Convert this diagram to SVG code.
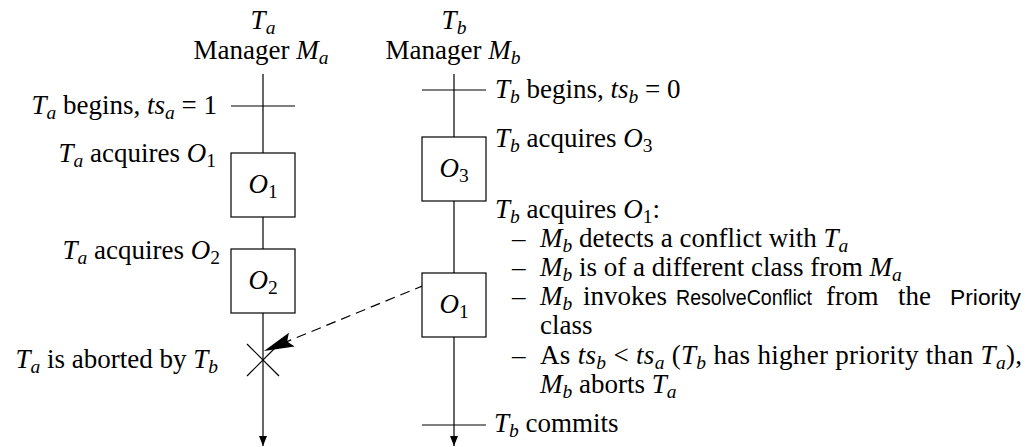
<svg xmlns="http://www.w3.org/2000/svg" width="1026" height="447" viewBox="0 0 1026 447">
<style>
.tx{font-family:"Liberation Serif","Times New Roman",serif;font-size:27px;fill:#000}
.it{font-style:italic}
.sb{font-size:19.5px}
.sf{font-family:"Liberation Sans",Arial,sans-serif;font-size:22px;fill:#000}
.ln{stroke:#000;stroke-width:1.2;fill:none}
.bx{stroke:#000;stroke-width:1.2;fill:#fff}
</style>
<defs>
<marker id="ah" viewBox="0 0 10 8" refX="10" refY="4" markerWidth="10" markerHeight="8" markerUnits="userSpaceOnUse" orient="auto">
<path d="M0,0 L10,4 L0,8 z" fill="#000"/>
</marker>
<marker id="ahb" viewBox="0 0 30 16" refX="30" refY="8" markerWidth="30" markerHeight="16" markerUnits="userSpaceOnUse" orient="auto">
<path d="M0,0.5 L30,8 L0,15.5 L5,8 z" fill="#000"/>
</marker>
</defs>

<g id="connectors">
<line class="ln" x1="263" y1="74" x2="263" y2="446" stroke="#555" marker-end="url(#ah)"/>
<line class="ln" x1="454" y1="74" x2="454" y2="446" marker-end="url(#ah)"/>
<line class="ln" x1="231" y1="106" x2="295" y2="106"/>
<line class="ln" x1="422" y1="90" x2="486" y2="90"/>
<line class="ln" x1="422" y1="425" x2="486" y2="425"/>
<line class="ln" x1="454" y1="273" x2="264" y2="351" stroke-width="1.5" stroke-dasharray="10,6" marker-end="url(#ahb)"/>
</g>

<g id="headerA">
<text class="tx" x="263" y="29" text-anchor="middle"><tspan class="it">T</tspan><tspan class="sb it" dy="5">a</tspan></text>
<text class="tx" x="261" y="59" text-anchor="middle">Manager <tspan class="it">M</tspan><tspan class="sb it" dy="5">a</tspan></text>
</g>
<g id="headerB">
<text class="tx" x="454" y="29" text-anchor="middle"><tspan class="it">T</tspan><tspan class="sb it" dy="5">b</tspan></text>
<text class="tx" x="453" y="59" text-anchor="middle">Manager <tspan class="it">M</tspan><tspan class="sb it" dy="5">b</tspan></text>
</g>

<g id="boxA1">
<rect class="bx" x="231" y="153" width="64" height="64"/>
<text class="tx" x="263" y="193" text-anchor="middle"><tspan class="it">O</tspan><tspan class="sb" dy="5">1</tspan></text>
</g>
<g id="boxA2">
<rect class="bx" x="231" y="249" width="64" height="64"/>
<text class="tx" x="263" y="289" text-anchor="middle"><tspan class="it">O</tspan><tspan class="sb" dy="5">2</tspan></text>
</g>
<g id="boxB3">
<rect class="bx" x="422" y="137" width="64" height="64"/>
<text class="tx" x="454" y="177" text-anchor="middle"><tspan class="it">O</tspan><tspan class="sb" dy="5">3</tspan></text>
</g>
<g id="boxB1">
<rect class="bx" x="422" y="273" width="64" height="64"/>
<text class="tx" x="454" y="313" text-anchor="middle"><tspan class="it">O</tspan><tspan class="sb" dy="5">1</tspan></text>
</g>

<g id="abortX">
<line class="ln" x1="247" y1="344" x2="279" y2="376"/>
<line class="ln" x1="279" y1="344" x2="247" y2="376"/>
</g>

<g id="labelsA">
<text class="tx" x="217" y="114" text-anchor="end"><tspan class="it">T</tspan><tspan class="sb it" dy="5">a</tspan><tspan dy="-5"> begins, </tspan><tspan class="it">ts</tspan><tspan class="sb it" dy="5">a</tspan><tspan dy="-5"> = 1</tspan></text>
<text class="tx" x="216" y="162" text-anchor="end"><tspan class="it">T</tspan><tspan class="sb it" dy="5">a</tspan><tspan dy="-5"> acquires </tspan><tspan class="it">O</tspan><tspan class="sb" dy="5">1</tspan></text>
<text class="tx" x="220" y="259" text-anchor="end"><tspan class="it">T</tspan><tspan class="sb it" dy="5">a</tspan><tspan dy="-5"> acquires </tspan><tspan class="it">O</tspan><tspan class="sb" dy="5">2</tspan></text>
<text class="tx" x="218" y="368" text-anchor="end"><tspan class="it">T</tspan><tspan class="sb it" dy="5">a</tspan><tspan dy="-5"> is aborted by </tspan><tspan class="it">T</tspan><tspan class="sb it" dy="5">b</tspan></text>
</g>

<g id="labelsB">
<text class="tx" x="495" y="98"><tspan class="it">T</tspan><tspan class="sb it" dy="5">b</tspan><tspan dy="-5"> begins, </tspan><tspan class="it">ts</tspan><tspan class="sb it" dy="5">b</tspan><tspan dy="-5"> = 0</tspan></text>
<text class="tx" x="495" y="147"><tspan class="it">T</tspan><tspan class="sb it" dy="5">b</tspan><tspan dy="-5"> acquires </tspan><tspan class="it">O</tspan><tspan class="sb" dy="5">3</tspan></text>
<text class="tx" x="495" y="218"><tspan class="it">T</tspan><tspan class="sb it" dy="5">b</tspan><tspan dy="-5"> acquires </tspan><tspan class="it">O</tspan><tspan class="sb" dy="5">1</tspan><tspan dy="-5">:</tspan></text>
<text class="tx" x="512" y="247">–</text>
<text class="tx" x="540" y="247"><tspan class="it">M</tspan><tspan class="sb it" dy="5">b</tspan><tspan dy="-5"> detects a conflict with </tspan><tspan class="it">T</tspan><tspan class="sb it" dy="5">a</tspan></text>
<text class="tx" x="512" y="276">–</text>
<text class="tx" x="540" y="276"><tspan class="it">M</tspan><tspan class="sb it" dy="5">b</tspan><tspan dy="-5"> is of a different class from </tspan><tspan class="it">M</tspan><tspan class="sb it" dy="5">a</tspan></text>
<text class="tx" x="512" y="305">–</text>
<text class="tx" x="540" y="305"><tspan class="it">M</tspan><tspan class="sb it" dy="5">b</tspan></text>
<text class="tx" x="583" y="305">invokes</text>
<text class="sf" x="676" y="305" textLength="136" lengthAdjust="spacingAndGlyphs">ResolveConflict</text>
<text class="tx" x="826" y="305">from</text>
<text class="tx" x="898" y="305">the</text>
<text class="sf" x="950" y="305" textLength="71" lengthAdjust="spacingAndGlyphs">Priority</text>
<text class="tx" x="540" y="334">class</text>
<text class="tx" x="512" y="364">–</text>
<text class="tx" x="540" y="364" textLength="482" lengthAdjust="spacing">As <tspan class="it">ts</tspan><tspan class="sb it" dy="5">b</tspan><tspan dy="-5"> &lt; </tspan><tspan class="it">ts</tspan><tspan class="sb it" dy="5">a</tspan><tspan dy="-5"> (</tspan><tspan class="it">T</tspan><tspan class="sb it" dy="5">b</tspan><tspan dy="-5"> has higher priority than </tspan><tspan class="it">T</tspan><tspan class="sb it" dy="5">a</tspan><tspan dy="-5">),</tspan></text>
<text class="tx" x="540" y="393"><tspan class="it">M</tspan><tspan class="sb it" dy="5">b</tspan><tspan dy="-5"> aborts </tspan><tspan class="it">T</tspan><tspan class="sb it" dy="5">a</tspan></text>
<text class="tx" x="494" y="432"><tspan class="it">T</tspan><tspan class="sb it" dy="5">b</tspan><tspan dy="-5"> commits</tspan></text>
</g>
</svg>
